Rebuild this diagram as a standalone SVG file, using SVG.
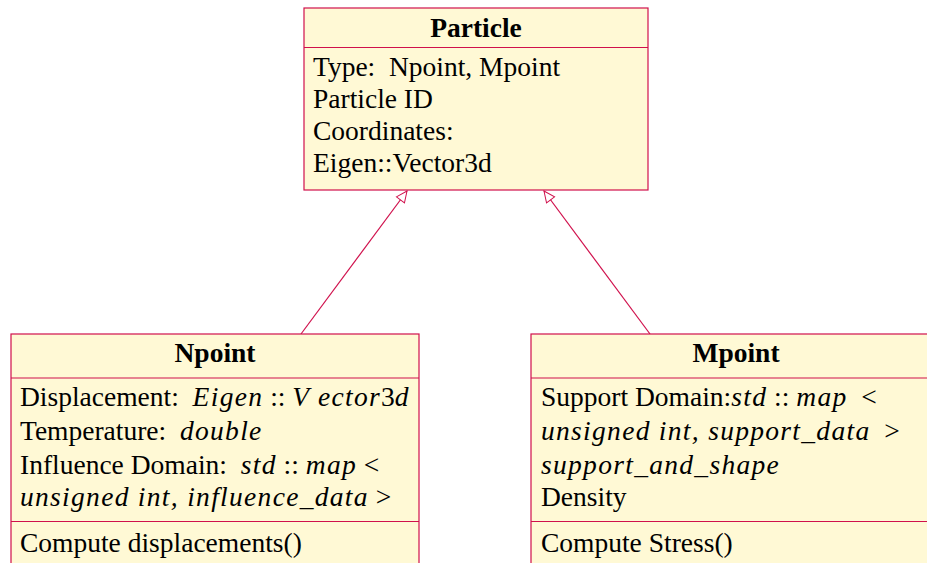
<svg xmlns="http://www.w3.org/2000/svg" width="927" height="563" viewBox="0 0 927 563">
<defs>
<marker id="inh" markerWidth="14" markerHeight="12" refX="12" refY="6" orient="auto" markerUnits="userSpaceOnUse">
<path d="M1,1 L12,6 L1,11 Z" fill="#ffffff" stroke="#d0104c" stroke-width="1"/>
</marker>
<style>
.box{fill:#fff9d5;stroke:#d0104c;stroke-width:1.2}
.sep{stroke:#d0104c;stroke-width:1.2}
.t{font-family:"Liberation Serif","Times New Roman",serif;font-size:27.5px;fill:#000}
.h{font-weight:bold;text-anchor:middle}
.i{font-style:italic;letter-spacing:1.3px}
.conn{stroke:#d0104c;stroke-width:1.2;fill:none}
</style>
</defs>
<g id="connectors">
<line class="conn" x1="301" y1="334" x2="407" y2="191" marker-end="url(#inh)"/>
<line class="conn" x1="650" y1="334" x2="544" y2="191" marker-end="url(#inh)"/>
</g>
<g id="particle">
<rect class="box" x="304" y="8" width="344" height="182"/>
<line class="sep" x1="304" y1="47.5" x2="648" y2="47.5"/>
<text class="t h" x="476" y="37">Particle</text>
<text class="t" x="313" y="76" xml:space="preserve">Type:  Npoint, Mpoint</text>
<text class="t" x="313" y="108">Particle ID</text>
<text class="t" x="313" y="140">Coordinates:</text>
<text class="t" x="313" y="172">Eigen::Vector3d</text>
</g>
<g id="npoint">
<rect class="box" x="11" y="334" width="408" height="240"/>
<line class="sep" x1="11" y1="378" x2="419" y2="378"/>
<line class="sep" x1="11" y1="521.5" x2="419" y2="521.5"/>
<text class="t h" x="215" y="362">Npoint</text>
<text class="t" x="20" y="406" xml:space="preserve">Displacement:  <tspan class="i">Eigen</tspan> :: <tspan class="i">V ector</tspan>3<tspan class="i">d</tspan></text>
<text class="t" x="20" y="440" xml:space="preserve">Temperature:  <tspan class="i">double</tspan></text>
<text class="t" x="20" y="474" xml:space="preserve">Influence Domain:  <tspan class="i">std</tspan> :: <tspan class="i">map</tspan> &lt;</text>
<text class="t" x="20" y="506" xml:space="preserve"><tspan class="i">unsigned int, influence_data</tspan> &gt;</text>
<text class="t" x="20" y="552">Compute displacements()</text>
</g>
<g id="mpoint">
<rect class="box" x="531" y="334" width="410" height="240"/>
<line class="sep" x1="531" y1="378" x2="941" y2="378"/>
<line class="sep" x1="531" y1="521.5" x2="941" y2="521.5"/>
<text class="t h" x="736" y="362">Mpoint</text>
<text class="t" x="541" y="406" xml:space="preserve">Support Domain:<tspan class="i">std</tspan> :: <tspan class="i">map</tspan>  &lt;</text>
<text class="t" x="541" y="440" xml:space="preserve"><tspan class="i">unsigned int, support_data</tspan>  &gt;</text>
<text class="t i" x="541" y="474">support_and_shape</text>
<text class="t" x="541" y="506">Density</text>
<text class="t" x="541" y="552">Compute Stress()</text>
</g>
</svg>
